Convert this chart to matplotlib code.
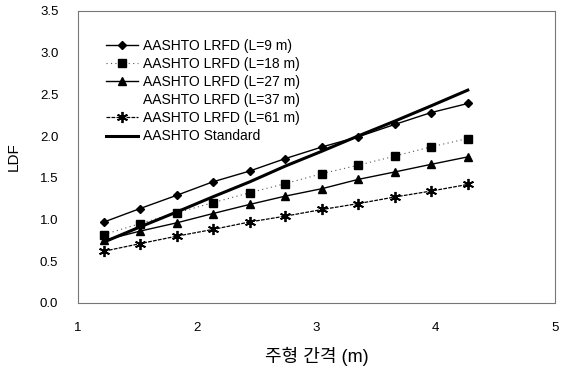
#LDF vs girder spacing - AASHTO LRFD vs Standard
import matplotlib
matplotlib.use("Agg")
import matplotlib.pyplot as plt
from matplotlib.lines import Line2D

plt.rcParams['font.family'] = ['Liberation Sans', 'Noto Sans CJK KR', 'DejaVu Sans']

#data (spacing in m)
spacing = [1.22, 1.52, 1.83, 2.13, 2.44, 2.74, 3.05, 3.35, 3.66, 3.96, 4.27]
ldf_l9 = [0.97, 1.13, 1.29, 1.45, 1.58, 1.73, 1.87, 1.99, 2.14, 2.28, 2.39]
ldf_l18 = [0.82, 0.95, 1.08, 1.20, 1.32, 1.43, 1.55, 1.65, 1.76, 1.87, 1.97]
ldf_l27 = [0.75, 0.86, 0.96, 1.07, 1.18, 1.28, 1.37, 1.48, 1.57, 1.66, 1.75]
ldf_l61 = [0.62, 0.71, 0.80, 0.88, 0.97, 1.04, 1.12, 1.19, 1.27, 1.34, 1.42]
ldf_std = [0.73, 0.91, 1.09, 1.27, 1.45, 1.64, 1.82, 2.00, 2.18, 2.36, 2.55]

labels = ["AASHTO LRFD (L=9 m)", "AASHTO LRFD (L=18 m)", "AASHTO LRFD (L=27 m)",
          "AASHTO LRFD (L=37 m)", "AASHTO LRFD (L=61 m)", "AASHTO Standard"]
xticks = [1, 2, 3, 4, 5]
yticks = [0.0, 0.5, 1.0, 1.5, 2.0, 2.5, 3.0, 3.5]

fig = plt.figure(figsize=(5.72, 3.74), dpi=100)
ax = fig.add_axes([0.136, 0.19, 0.834, 0.781])

h1, = ax.plot(spacing, ldf_l9, color='black', lw=1.0, marker='D', ms=4.5)
h2, = ax.plot(spacing, ldf_l18, color='#555555', lw=0.8, ls=(0, (1, 3)), marker='s',
              ms=6, mfc='black', mec='black')
h3, = ax.plot(spacing, ldf_l27, color='black', lw=1.0, marker='^', ms=6)
h4 = Line2D([], [], ls='none', marker=None)
#asterisk marker
h5, = ax.plot(spacing, ldf_l61, color='black', lw=0.9, ls=(0, (3, 1)), marker=(6, 2, 0),
              ms=8, mew=1.3)
h6, = ax.plot(spacing, ldf_std, color='black', lw=2.2)

ax.set_xlim(1, 5)
ax.set_ylim(0, 3.5)
ax.set_xticks(xticks)
ax.set_yticks(yticks)
ax.set_yticklabels([f"{v:.1f}" for v in yticks])
ax.tick_params(length=0, labelsize=9.5, pad=14)
ax.tick_params(axis='x', pad=14)
for s in ax.spines.values():
    s.set_color('#777777')
    s.set_linewidth(0.8)
    s.set_linestyle((0, (4, 1)))

ax.set_xlabel("주형 간격 (m)", fontsize=13, labelpad=9)
ax.set_ylabel("LDF", fontsize=11, labelpad=14)

ax.legend([h1, h2, h3, h4, h5, h6], labels, loc='upper left', bbox_to_anchor=(0.06, 0.905),
          frameon=False, fontsize=10, handlelength=2.3, handletextpad=0.3,
          labelspacing=0.3, borderaxespad=0, borderpad=0)

fig.savefig("out.png", dpi=100)
